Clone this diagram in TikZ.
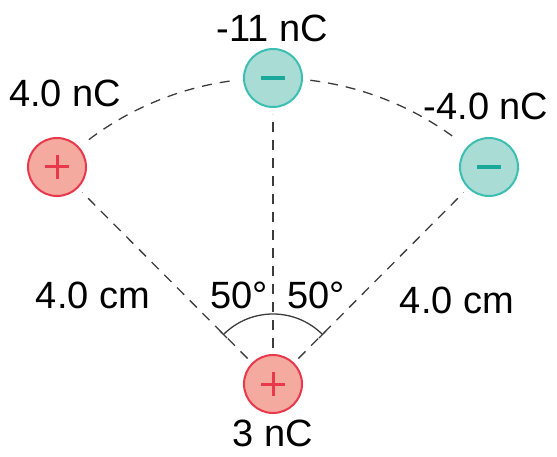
\documentclass[tikz,border=0pt]{standalone}
\usepackage{fontspec}
\setmainfont{Liberation Sans}
\usetikzlibrary{positioning}
\definecolor{posfill}{RGB}{245,170,160}
\definecolor{posline}{RGB}{232,56,76}
\definecolor{negfill}{RGB}{170,220,214}
\definecolor{negline}{RGB}{60,190,178}
\definecolor{negsign}{RGB}{26,168,152}
\definecolor{dashgray}{RGB}{60,60,60}

\begin{document}
\begin{tikzpicture}[x=1pt, y=-1pt,
    poscharge/.style={circle, draw=posline, fill=posfill, line width=2pt, minimum size=58pt, inner sep=0pt},
    negcharge/.style={circle, draw=negline, fill=negfill, line width=2pt, minimum size=58pt, inner sep=0pt},
    lbl/.style={font=\fontsize{38}{38}\selectfont, inner sep=0pt},
    dline/.style={dashgray, line width=1.3pt, dash pattern=on 10pt off 8pt}]
    \useasboundingbox (0, 0) rectangle (557, 457);

    \node [poscharge] (q0) at (273, 384) {};
    \node [poscharge] (q1) at (57, 167) {};
    \node [negcharge] (q2) at (273, 78) {};
    \node [negcharge] (q3) at (489, 167) {};

    % signs
    \foreach \q in {q0, q1} {
      \draw [posline, line width=3pt] ([xshift=-12pt]\q.center) -- ([xshift=12pt]\q.center);
      \draw [posline, line width=3pt] ([yshift=-12pt]\q.center) -- ([yshift=12pt]\q.center);
    };
    \foreach \q in {q2, q3} {
      \draw [negsign, line width=3.6pt] ([xshift=-12pt]\q.center) -- ([xshift=12pt]\q.center);
    };

    % sides (y points down, so angles are negative)
    \draw [dline, shorten >=6pt, shorten <=6pt] (q0) -- (q1);
    \draw [dline, shorten >=6pt, shorten <=6pt] (q0) -- (q2);
    \draw [dline, shorten >=6pt, shorten <=6pt] (q0) -- (q3);
    \draw [dline] (q0.center) ++(-127:306) arc (-127:-97:306);
    \draw [dline] (q0.center) ++(-83:306) arc (-83:-53:306);

    % angle
    \draw [dline, solid] (q0.center) ++(-135:70) arc (-135:-45:70);
    \draw [dline, solid] (q0.center) ++(-135:65) -- ++(-135:10);
    \draw [dline, solid] (q0.center) ++(-45:65) -- ++(-45:10);

    \node [lbl] at (65, 93) {4.0 nC};
    \node [lbl] at (272, 28) {-11 nC};
    \node [lbl] at (486, 106) {-4.0 nC};
    \node [lbl] at (273, 433) {3 nC};
    \node [lbl] at (93, 295) {4.0 cm};
    \node [lbl] at (457, 300) {4.0 cm};
    \node [lbl] at (239, 295) {50°};
    \node [lbl] at (316, 295) {50°};
  \end{tikzpicture}
\end{document}
